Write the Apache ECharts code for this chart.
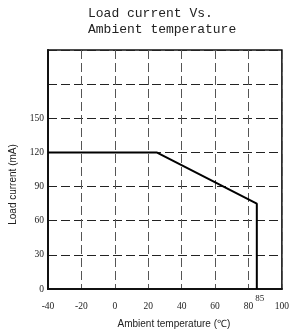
<!DOCTYPE html>
<html>
<head>
<meta charset="utf-8">
<script src="https://cdn.jsdelivr.net/npm/echarts@6.0.0/dist/echarts.min.js"></script>
<style>
  html, body { margin: 0; padding: 0; background: #fff; }
  #chart { width: 292px; height: 335px; }
</style>
</head>
<body>
<div id="chart"></div>
<script>
// ── 数据 ──
var titleLines = ['Load current Vs.', 'Ambient temperature'];
var tempPoints = [-40, 25, 85, 85];
var currentPoints = [120, 120, 75, 0];
var yLabelsShown = [0, 30, 60, 90, 120, 150];

var chart = echarts.init(document.getElementById('chart'));

var lineData = tempPoints.map(function (t, i) { return [t, currentPoints[i]]; });
// 85 标注放在最后一点
lineData[lineData.length - 1] = {
    value: lineData[lineData.length - 1],
    label: { show: true, formatter: '85', position: 'bottom', offset: [3, 0],
             fontFamily: 'Liberation Serif', fontSize: 9, color: '#222' }
};

chart.setOption({
    animation: false,
    title: {
        text: titleLines.join('\n'),
        left: 88, top: 6, padding: 0,
        textStyle: { fontFamily: 'Liberation Mono', fontSize: 13, fontWeight: 'normal',
                     color: '#222', lineHeight: 16 }
    },
    grid: { left: 45, right: 8, top: 50, bottom: 46, show: true,
            borderColor: '#111', borderWidth: 1.5 },
    xAxis: {
        type: 'value', min: -40, max: 100, interval: 20,
        name: 'Ambient temperature (\u2103)', nameLocation: 'middle', nameGap: 30,
        nameTextStyle: { fontFamily: 'Liberation Sans', fontSize: 10, color: '#222', padding: [0, 0, 0, 18] },
        axisLine: { show: true, onZero: false, lineStyle: { color: '#111', width: 2 } },
        axisTick: { show: false },
        axisLabel: { fontFamily: 'Liberation Serif', fontSize: 9.5, color: '#222', margin: 12 },
        splitLine: { show: true, lineStyle: { color: '#555', type: [9, 4], width: 1 } }
    },
    yAxis: {
        type: 'value', min: 0, max: 210, interval: 30,
        name: 'Load current (mA)', nameLocation: 'middle', nameGap: 30,
        nameTextStyle: { fontFamily: 'Liberation Sans', fontSize: 10, color: '#222', padding: [0, 30, 0, 0] },
        axisLine: { show: true, onZero: false, lineStyle: { color: '#111', width: 2 } },
        axisTick: { show: false },
        axisLabel: {
            fontFamily: 'Liberation Serif', fontSize: 9.5, color: '#222', margin: 4,
            formatter: function (v) { return yLabelsShown.indexOf(v) >= 0 ? String(v) : ''; }
        },
        splitLine: { show: true, lineStyle: { color: '#222', type: [9, 4], width: 1 } }
    },
    series: [{
        type: 'line',
        data: lineData,
        symbol: 'circle',
        symbolSize: 0.1,
        showAllSymbol: true,
        itemStyle: { color: '#000' },
        lineStyle: { color: '#000', width: 2 },
        label: { show: false }
    }]
});
</script>
</body>
</html>
